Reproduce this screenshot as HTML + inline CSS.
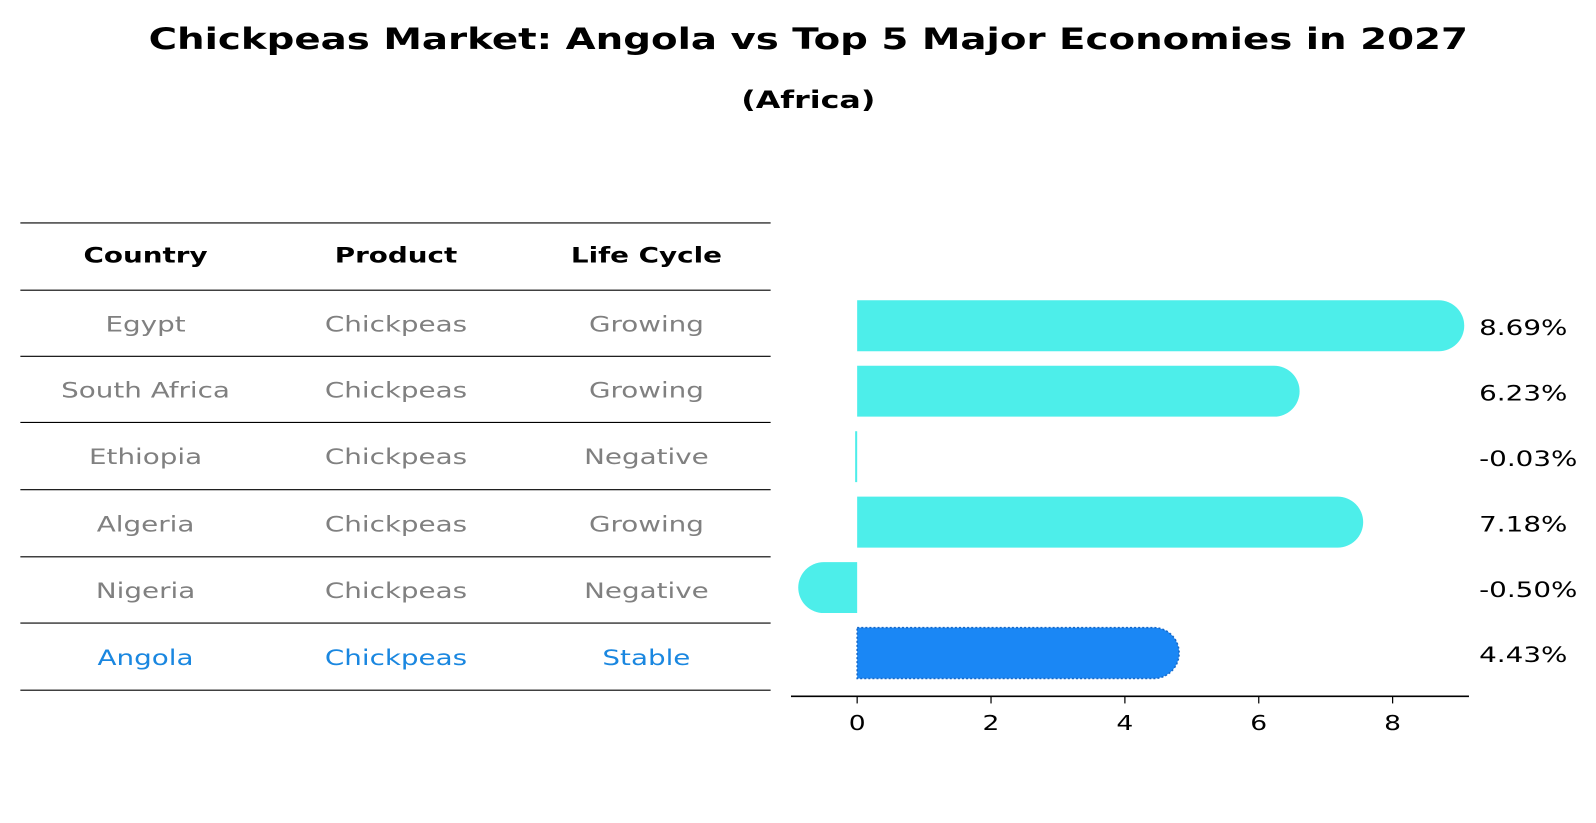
<!DOCTYPE html>
<html><head><meta charset="utf-8"><style>
html,body{margin:0;padding:0;background:#fff;}
svg{display:block;font-family:"DejaVu Sans","Liberation Sans",sans-serif;}
</style></head><body>
<svg id="chart" width="1596" height="823" viewBox="0 0 1596 823" xmlns="http://www.w3.org/2000/svg">
<g id="root" transform="scale(1.018)">
<text x="794" y="48" text-anchor="middle" font-size="29" font-weight="bold" textLength="1296" lengthAdjust="spacingAndGlyphs">Chickpeas Market: Angola vs Top 5 Major Economies in 2027</text>
<text class="st" x="794" y="106" text-anchor="middle" font-size="24" font-weight="bold">(Africa)</text>
<g id="table"></g>
<g id="bars"></g>
</g>
</svg>
<script>
const countries = ["Egypt","South Africa","Ethiopia","Algeria","Nigeria","Angola"];
const products = ["Chickpeas","Chickpeas","Chickpeas","Chickpeas","Chickpeas","Chickpeas"];
const lifeCycles = ["Growing","Growing","Negative","Growing","Negative","Stable"];
const growth = [8.69, 6.23, -0.03, 7.18, -0.50, 4.43];
const valueLabels = ["8.69%","6.23%","-0.03%","7.18%","-0.50%","4.43%"];
const xTicks = [0, 2, 4, 6, 8];
const headers = ["Country","Product","Life Cycle"];

const NS = "http://www.w3.org/2000/svg";
function mk(tag, attrs, parent){const e=document.createElementNS(NS,tag);for(const k in attrs)e.setAttribute(k,attrs[k]);parent.appendChild(e);return e;}
const x0 = 842, xs = 65.75;
const xScale = v => x0 + v*xs;
const rowY = i => 320 + i*64.3;

const tbl = document.getElementById('table');
const lineYs = [219,285,350,415,481,547,612,678];
lineYs.forEach((y,i)=>{
  const l = mk('line',{x1:20,x2:757,y1:y,y2:y,stroke:'#000','stroke-width':1.1},tbl);
  
  
});
const colX = [143,389,635];
headers.forEach((h,j)=>{
  const t = mk('text',{x:colX[j],y:258,'text-anchor':'middle','font-size':21,'font-weight':'bold',class:'st'},tbl);
  t.textContent = h;
  
  
});
countries.forEach((c,i)=>{
  const cy = (lineYs[i+1]+lineYs[i+2])/2 + 8;
  const col = i===5 ? '#1a87e0' : '#808080';
  [c, products[i], lifeCycles[i]].forEach((v,j)=>{
    const t = mk('text',{x:colX[j],y:cy,'text-anchor':'middle','font-size':21,fill:col,class:'st'},tbl);
    t.textContent = v;
    
    
  });
});

const g = document.getElementById('bars');
const bh = 50, r = 25;
growth.forEach((v,i)=>{
  const cy = rowY(i), top = cy-bh/2;
  const xe = xScale(v);
  const w = Math.abs(xe - x0);
  const color = i===5 ? '#1a87f5' : '#4deeea';
  let d;
  if (w < 10) {
    d = `M${Math.min(x0,xe)} ${top} h${Math.max(w,2)} v${bh} h${-Math.max(w,2)} Z`;
  } else if (v >= 0) {
    d = `M${x0} ${top} H${xe} A${r} ${r} 0 0 1 ${xe} ${top+bh} H${x0} Z`;
  } else {
    d = `M${x0} ${top} H${xe} A${r} ${r} 0 0 0 ${xe} ${top+bh} H${x0} Z`;
  }
  const p = mk('path',{d:d,fill:color},g);
  if (i===5){ p.setAttribute('stroke','#1668c8'); p.setAttribute('stroke-width','1.5'); p.setAttribute('stroke-dasharray','2 2'); }
  
  
  const t = mk('text',{x:1453,y:cy+9,'font-size':21,class:'st'},g);
  t.textContent = valueLabels[i];
  
  
});
const ax = mk('line',{x1:777,x2:1443,y1:684,y2:684,stroke:'#000','stroke-width':1.5},g);


xTicks.forEach(v=>{
  const x = xScale(v);
  const tk = mk('line',{x1:x,x2:x,y1:684,y2:691,stroke:'#000','stroke-width':1.2},g);
  
  
  const t = mk('text',{x:x,y:717,'text-anchor':'middle','font-size':20,class:'st'},g);
  t.textContent = v;
  
  
});

document.querySelectorAll('text.st').forEach(t=>{
  const L = t.getComputedTextLength();
  if (L > 0) {
    t.setAttribute('textLength', (L*1.3).toFixed(1));
    t.setAttribute('lengthAdjust','spacingAndGlyphs');
  }
});
</script>
</body></html>
